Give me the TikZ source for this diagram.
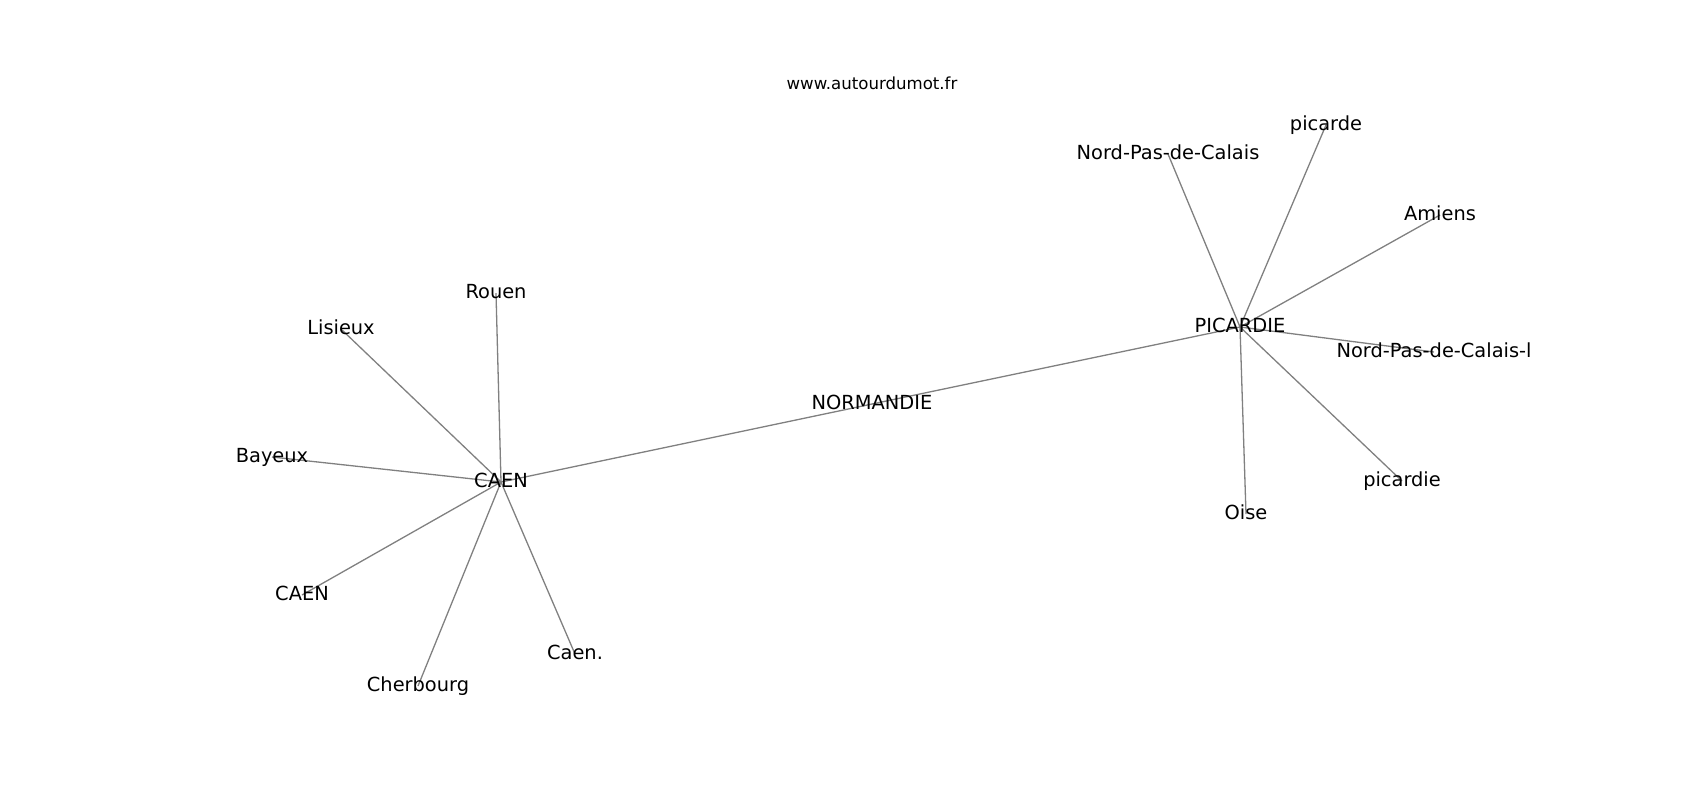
\documentclass[tikz,border=0pt]{standalone}
\usepackage{fontspec}
\setmainfont{DejaVu Sans}
\pgfdeclarelayer{background}
\pgfsetlayers{background,main}
\begin{document}
\begin{tikzpicture}[x=0.5pt,y=-0.5pt,
  lbl/.style={inner sep=0pt,font=\fontsize{9.7pt}{11pt}\selectfont,text height=0.76em,text depth=0.24em,anchor=center},
  edge/.style={draw=gray,line width=0.65pt}]
\useasboundingbox (0,0) rectangle (1700,800);
% nodes
\node[lbl] (caen)  at (501,482) {CAEN};
\node[lbl] (rouen) at (496,293) {Rouen};
\node[lbl] (lisieux) at (341,329) {Lisieux};
\node[lbl] (bayeux) at (272,457) {Bayeux};
\node[lbl] (caen2) at (302,595) {CAEN};
\node[lbl] (cherbourg) at (418,686) {Cherbourg};
\node[lbl] (caendot) at (575,654) {Caen.};
\node[lbl] (normandie) at (872,404) {NORMANDIE};
\node[lbl] (picardie) at (1240,327) {PICARDIE};
\node[lbl] (npdc) at (1168,154) {Nord-Pas-de-Calais};
\node[lbl] (picarde) at (1326,125) {picarde};
\node[lbl] (amiens) at (1440,215) {Amiens};
\node[lbl] (npdcl) at (1434,352) {Nord-Pas-de-Calais-l};
\node[lbl] (picardie2) at (1402,481) {picardie};
\node[lbl] (oise) at (1246,514) {Oise};
\node[inner sep=0pt,font=\fontsize{8.3pt}{10pt}\selectfont,anchor=base] (title) at (872,89) {www.autourdumot.fr};
% edges
\begin{pgfonlayer}{background}
\foreach \a/\b in {caen/rouen,caen/lisieux,caen/bayeux,caen/caen2,caen/cherbourg,caen/caendot,caen/normandie,normandie/picardie,picardie/npdc,picardie/picarde,picardie/amiens,picardie/npdcl,picardie/picardie2,picardie/oise}
  \draw[edge] (\a.center) -- (\b.center);
\end{pgfonlayer}
\end{tikzpicture}
\end{document}
